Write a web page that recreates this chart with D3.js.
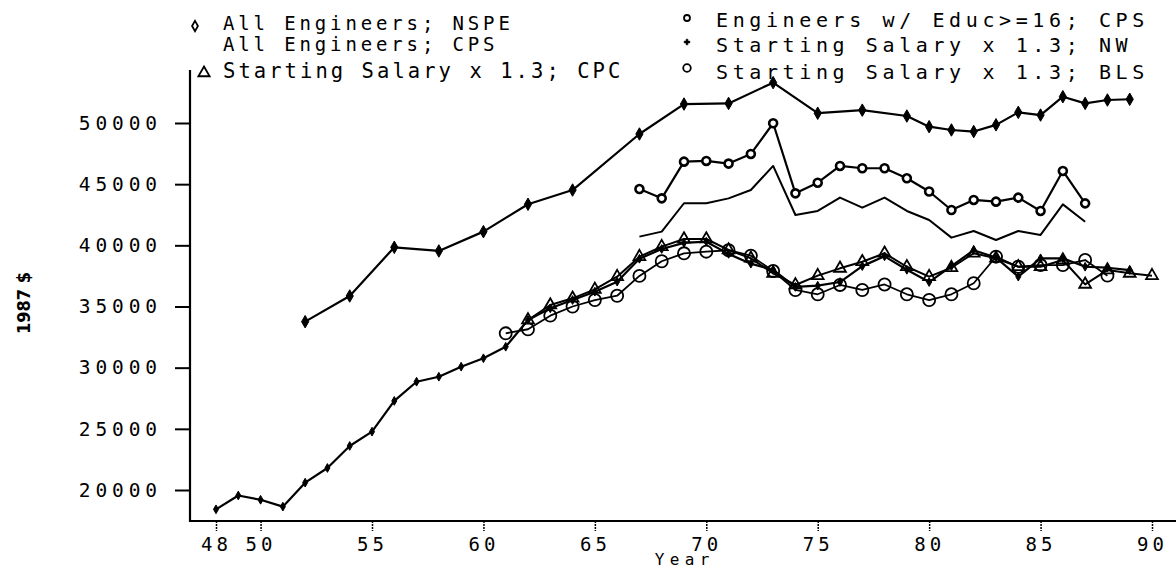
<!DOCTYPE html>
<html>
<head>
<meta charset="utf-8">
<script src="https://cdn.jsdelivr.net/npm/d3@7"></script>
<style>
  body { margin: 0; background: #fff; }
  svg { display: block; }
</style>
</head>
<body>
<script>
// salary series, 1987 dollars
const nspeYears = [52, 54, 56, 58, 60, 62, 64, 67, 69, 71, 73, 75, 77, 79, 80, 81, 82, 83, 84, 85, 86, 87, 88, 89]
const nspeSalary = [33760, 35860, 39840, 39540, 41120, 43360, 44520, 49100, 51550, 51600, 53300, 50800, 51050, 50570,
  49700, 49430, 49300, 49850, 50870, 50650, 52150, 51600, 51880, 51940]

const educYears = d3.range(67, 88)
const educSalary = [44600, 43840, 46840, 46900, 46680, 47470, 49980, 44250, 45120, 46490, 46300, 46300, 45480, 44400,
  42890, 43710, 43570, 43900, 42810, 46080, 43430]

const cpsYears = d3.range(67, 88)
const cpsSalary = [40710, 41120, 43440, 43440, 43840, 44520, 46490, 42480, 42810, 43900, 43080, 43900, 42810, 42070,
  40630, 41170, 40440, 41170, 40850, 43350, 41930]

const cpcYears = d3.range(62, 91)
const cpcSalary = [33900, 35120, 35670, 36400, 37440, 39070, 39890, 40520, 40520, 39620, 38940, 37710, 36760, 37520,
  38120, 38660, 39350, 38250, 37440, 38170, 39350, 38940, 38250, 38250, 38800, 36810, 37980, 37710, 37520]

const nwYears = d3.range(48, 90)
const nwSalary = [18420, 19550, 19200, 18640, 20600, 21800, 23600, 24770, 27280, 28850, 29260, 30080, 30770, 31710,
  33900, 34850, 35530, 36210, 37030, 38900, 39700, 40200, 40300, 39300, 38500, 38000, 36600, 36700, 37000, 38300,
  39100, 38000, 37000, 38300, 39600, 39000, 37440, 38940, 38940, 38250, 38170, 37980]

const blsYears = d3.range(61, 89)
const blsSalary = [32810, 33140, 34250, 35000, 35530, 35880, 37500, 38700, 39350, 39480, 39600, 39150, 37900, 36350,
  36000, 36760, 36350, 36800, 36000, 35530, 36000, 36900, 39070, 38250, 38390, 38390, 38800, 37520]

const yTicks = [20000, 25000, 30000, 35000, 40000, 45000, 50000]
const xTicks = [48, 50, 55, 60, 65, 70, 75, 80, 85, 90]

const legendLeft = ['All Engineers; NSPE', 'All Engineers; CPS', 'Starting Salary x 1.3; CPC']
const legendRight = ['Engineers w/ Educ>=16; CPS', 'Starting Salary x 1.3; NW', 'Starting Salary x 1.3; BLS']

const W = 1176
const H = 569
const MONO = 'DejaVu Sans Mono'

const svg = d3.select('body').append('svg')
  .attr('width', W)
  .attr('height', H)
svg.append('rect').attr('width', W).attr('height', H).attr('fill', '#fff')

const x = d3.scaleLinear().domain([48, 90]).range([216, 1152])
const y = d3.scaleLinear().domain([20000, 50000]).range([490, 123])

// plotter lettering is wide, so widen mono glyphs with letter spacing
function spacingFor (size, pitch) {
  return pitch - size * 0.602
}

function plotText (node, px, py, str, size, pitch, anchor) {
  const sp = spacingFor(size, pitch)
  let dx = 0
  if (anchor === 'end') dx = sp
  if (anchor === 'middle') dx = sp / 2
  return node.append('text')
    .attr('x', px + dx)
    .attr('y', py)
    .attr('text-anchor', anchor || 'start')
    .attr('fill', '#000')
    .style('font-family', MONO)
    .style('font-size', size + 'px')
    .style('letter-spacing', sp + 'px')
    .text(str)
}

// axes
const axisX0 = 190
const axisY0 = 521

const yG = svg.append('g').attr('transform', 'translate(' + axisX0 + ',0)')
yG.call(d3.axisLeft(y).tickValues(yTicks).tickSize(15).tickFormat(d3.format('d')))
yG.select('.domain').remove()
yG.selectAll('.tick line').attr('stroke', '#000').attr('stroke-width', 2)
yG.selectAll('.tick text')
  .attr('x', -33 + spacingFor(19.5, 16.6))
  .attr('fill', '#000')
  .style('font-family', MONO)
  .style('font-size', '19.5px')
  .style('letter-spacing', spacingFor(19.5, 16.6) + 'px')

const xG = svg.append('g').attr('transform', 'translate(0,' + axisY0 + ')')
xG.call(d3.axisBottom(x).tickValues(xTicks).tickSize(10).tickFormat(d => d))
xG.select('.domain').remove()
xG.selectAll('.tick line').attr('stroke', '#000').attr('stroke-width', 1.5).attr('stroke-dasharray', '2,1')
xG.selectAll('.tick text')
  .attr('y', 30)
  .attr('dy', 0)
  .attr('dx', spacingFor(19, 15.5) / 2 - 2)
  .attr('fill', '#000')
  .style('font-family', MONO)
  .style('font-size', '19px')
  .style('letter-spacing', spacingFor(19, 15.5) + 'px')

svg.append('line')
  .attr('x1', axisX0).attr('x2', axisX0)
  .attr('y1', 70).attr('y2', axisY0 + 1)
  .attr('stroke', '#000').attr('stroke-width', 2.2)
svg.append('line')
  .attr('x1', axisX0).attr('x2', W)
  .attr('y1', axisY0).attr('y2', axisY0)
  .attr('stroke', '#000').attr('stroke-width', 2.2)

plotText(svg, 682, 565, 'Year', 16, 15, 'middle')

svg.append('text')
  .attr('transform', 'translate(30,303) rotate(-90)')
  .attr('text-anchor', 'middle')
  .attr('fill', '#000')
  .style('font-family', 'DejaVu Sans Condensed, DejaVu Sans')
  .style('font-weight', 'bold')
  .style('font-size', '18px')
  .text('1987 $')

// series
const line = d3.line()
  .x(d => x(d[0]))
  .y(d => y(d[1]))

function drawSeries (years, values, width) {
  const pts = years.map((yr, i) => [yr, values[i]])
  svg.append('path')
    .attr('d', line(pts))
    .attr('fill', 'none')
    .attr('stroke', '#000')
    .attr('stroke-width', width)
    .attr('stroke-linejoin', 'round')
  return pts
}

function drawMarks (pts, symbol, size, fill, strokeW) {
  svg.append('g').selectAll('path')
    .data(pts)
    .join('path')
    .attr('transform', d => 'translate(' + x(d[0]) + ',' + y(d[1]) + ')')
    .attr('d', d3.symbol().type(symbol).size(size))
    .attr('fill', fill)
    .attr('stroke', '#000')
    .attr('stroke-width', strokeW)
}

const nspePts = drawSeries(nspeYears, nspeSalary, 2.2)
const educPts = drawSeries(educYears, educSalary, 2.2)
drawSeries(cpsYears, cpsSalary, 2)
const nwPts = drawSeries(nwYears, nwSalary, 2.2)
const cpcPts = drawSeries(cpcYears, cpcSalary, 2)
const blsPts = drawSeries(blsYears, blsSalary, 1.8)

drawMarks(nspePts, d3.symbolDiamond, 45, '#000', 1)
drawMarks(educPts, d3.symbolCircle, 50, '#fff', 2.6)
drawMarks(nwPts, d3.symbolDiamond, 22, '#000', 1)
drawMarks(cpcPts, d3.symbolTriangle, 60, 'none', 1.8)
drawMarks(blsPts, d3.symbolCircle, 115, 'none', 1.8)

// legend
const legend = svg.append('g')
plotText(legend, 223, 30, legendLeft[0], 19, 15.3, 'start')
plotText(legend, 223, 51, legendLeft[1], 19, 15.3, 'start')
plotText(legend, 223, 78, legendLeft[2], 20.5, 15.4, 'start')
plotText(legend, 716, 27, legendRight[0], 20, 16.65, 'start')
plotText(legend, 716, 52, legendRight[1], 20, 16.65, 'start')
plotText(legend, 716, 79, legendRight[2], 20, 16.65, 'start')

function legendMark (px, py, symbol, size, fill, strokeW) {
  legend.append('path')
    .attr('transform', 'translate(' + px + ',' + py + ')')
    .attr('d', d3.symbol().type(symbol).size(size))
    .attr('fill', fill)
    .attr('stroke', '#000')
    .attr('stroke-width', strokeW)
}
legendMark(195, 26, d3.symbolDiamond, 30, '#fff', 1.8)
legendMark(204, 73, d3.symbolTriangle, 55, 'none', 1.8)
legendMark(687, 18, d3.symbolCircle, 28, '#fff', 1.8)
legendMark(687, 42, d3.symbolCross, 18, '#000', 0.5)
legendMark(687, 68, d3.symbolCircle, 45, 'none', 1.8)
</script>
</body>
</html>
